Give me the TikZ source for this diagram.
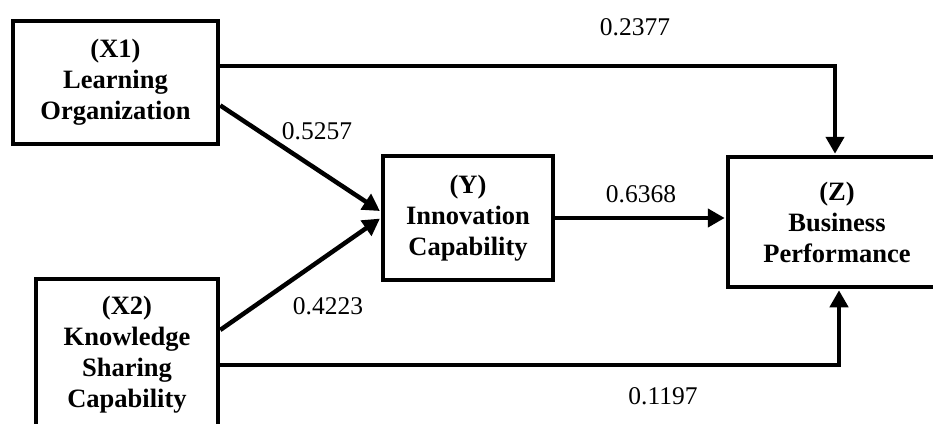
\documentclass[tikz,border=0pt]{standalone}
\usepackage{fontspec}
\setmainfont{Liberation Serif}
\usetikzlibrary{arrows.meta,calc}
\begin{document}
\begin{tikzpicture}[x=1pt,y=1pt,
  box/.style={draw, line width=4.5pt, inner sep=0pt, align=center,
    font=\bfseries\fontsize{26.5}{31}\selectfont},
  conn/.style={line width=4.5pt, -{Triangle[length=17pt,width=18pt]}, shorten >=1pt},
  val/.style={inner sep=0pt, font=\fontsize{25.5}{30}\selectfont}]
\clip (0,0) rectangle (933,-423);
\fill[white] (0,0) rectangle (933,-423);
\node[box, minimum width=205, minimum height=123] (x1) at (115.5,-82.5)
  {(X1)\\Learning\\Organization};
\node[box, minimum width=182, minimum height=152] (x2) at (127,-355)
  {(X2)\\Knowledge\\Sharing\\Capability};
\node[box, minimum width=170, minimum height=124] (y) at (468,-218)
  {(Y)\\Innovation\\Capability};
\node[box, minimum width=218, minimum height=130] (z) at (837,-222)
  {(Z)\\Business\\Performance};
\coordinate (bt) at (835,-66);
\coordinate (bb) at (839,-365);
\draw[conn] (x1.east |- bt) -- (bt) -- (bt |- z.north);
\draw[conn] (x2.east |- bb) -- (bb) -- (bb |- z.south);
\draw[conn] ($(x1.north east)!0.68!(x1.south east)$) -- ($(y.north west)!0.45!(y.south west)$);
\draw[conn] ($(x2.north east)!0.34!(x2.south east)$) -- ($(y.north west)!0.5!(y.south west)$);
\draw[conn] (y.east) -- (y.east -| z.west);
\node[val] (l1) at (635,-27) {0.2377};
\node[val] (l2) at (317,-131) {0.5257};
\node[val] (l3) at (641,-194) {0.6368};
\node[val] (l4) at (328,-306) {0.4223};
\node[val] (l5) at (663,-396) {0.1197};
\end{tikzpicture}
\end{document}
